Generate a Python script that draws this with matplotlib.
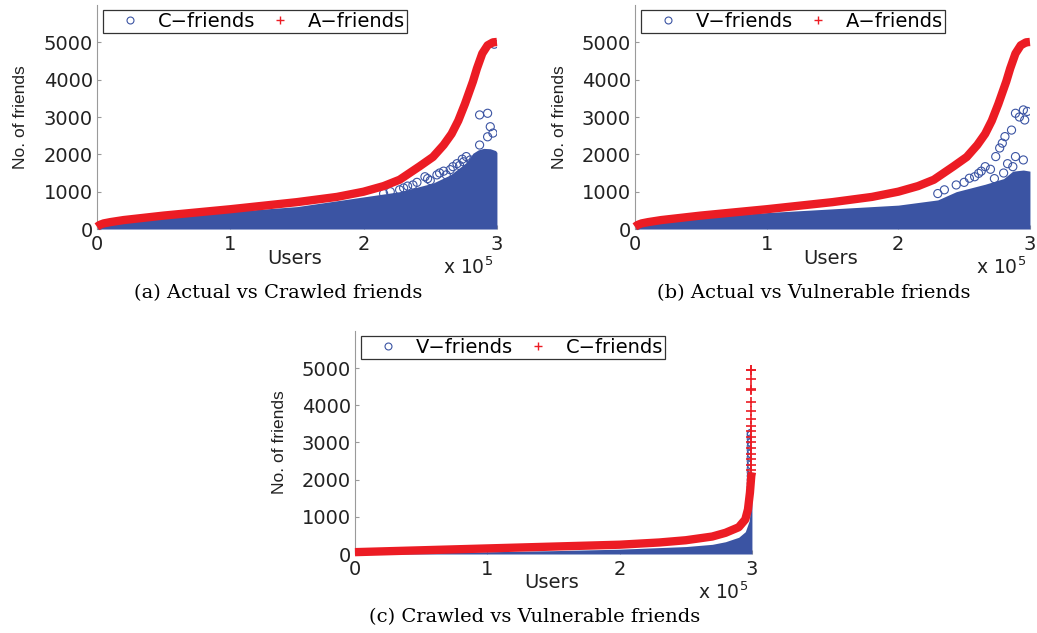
import matplotlib
matplotlib.use('Agg')
import matplotlib.pyplot as plt
from matplotlib.lines import Line2D

BLUE = '#3b54a3'
RED = '#ec1c24'
GRAY = '#9a9a9a'

# users are in units of 10^5 (sorted by number of actual friends)
# A-friends: actual friends (same curve in panels a and b)
a_users = [0, 0.02, 0.05, 0.1, 0.2, 0.5, 1.0, 1.5, 1.8, 2.0, 2.15, 2.27, 2.42,
           2.52, 2.6, 2.66, 2.71, 2.76, 2.82, 2.85, 2.89, 2.93, 2.97, 3.0]
a_friends = [60, 110, 150, 185, 240, 360, 530, 720, 860, 1000, 1150, 1320, 1680,
             1930, 2250, 2550, 2900, 3350, 3950, 4300, 4700, 4920, 5000, 5010]

# C-friends (panel a): upper edge of the crawled-friends cloud + stray points
c_users = [0, 0.02, 0.1, 0.5, 1.0, 1.5, 2.0, 2.27, 2.52, 2.65, 2.77, 2.82, 2.86,
           2.9, 2.95, 2.99, 3.0, 3.0]
c_friends = [20, 80, 150, 320, 470, 600, 860, 1000, 1230, 1450, 1780, 2030, 2120,
             2160, 2150, 2100, 2050, 0]
c_out_users = [2.87, 2.93, 2.95, 2.93, 2.97, 2.87, 2.77, 2.74, 2.67, 2.65, 2.55,
               2.46, 2.37, 2.27, 2.6, 2.8, 2.98, 2.3, 2.33, 2.4, 2.48, 2.5, 2.57,
               2.62, 2.7, 2.72, 2.75, 2.2, 2.15]
c_out_friends = [3056, 3100, 2740, 2470, 2570, 2250, 1940, 1870, 1670, 1590, 1450,
                 1400, 1180, 1050, 1550, 1850, 4950, 1100, 1150, 1250, 1350, 1300,
                 1500, 1450, 1750, 1700, 1800, 1000, 950]

# V-friends (panel b)
v_users = [0, 0.02, 0.1, 0.5, 1.0, 1.5, 2.0, 2.3, 2.44, 2.66, 2.8, 2.87, 2.95,
           3.0, 3.0]
v_friends = [20, 80, 150, 320, 440, 540, 640, 780, 1000, 1200, 1350, 1550, 1580,
             1550, 0]
v_out_users = [2.95, 2.89, 2.96, 2.86, 2.81, 2.79, 2.77, 2.74, 2.89, 2.95, 2.66,
               2.61, 2.54, 2.44, 2.87, 2.92, 2.98, 2.3, 2.35, 2.5, 2.58, 2.63,
               2.7, 2.73, 2.8, 2.83]
v_out_friends = [3190, 3100, 2920, 2650, 2475, 2300, 2170, 1940, 1940, 1850, 1670,
                 1490, 1360, 1180, 1670, 3000, 3150, 950, 1050, 1250, 1400, 1550,
                 1600, 1350, 1500, 1750]

# panel c: crawled (red) vs vulnerable (blue)
cc_users = [0, 0.5, 1.0, 1.5, 2.0, 2.3, 2.5, 2.7, 2.8, 2.9, 2.95, 2.97, 2.985,
            2.995, 3.0]
cc_friends = [50, 100, 150, 200, 250, 310, 370, 470, 570, 720, 930, 1200, 1650,
              2100, 2200]
cc_top_friends = [4950, 4950, 4710, 4440, 4400, 4080, 3860, 3630, 3450, 3300,
                  3150, 3000, 2850, 2700, 2550, 2400, 2250]
vc_users = [0, 0.5, 1.0, 1.5, 2.0, 2.5, 2.7, 2.8, 2.9, 2.95, 2.98, 2.995, 3.0, 3.0]
vc_friends = [20, 40, 60, 90, 130, 200, 260, 330, 450, 600, 900, 1500, 1600, 0]
vc_top_friends = [3250, 3200, 3100, 3000, 2900, 2800, 2700, 2600, 2500, 2400,
                  2300, 2200, 2100, 2000, 1900, 1800, 1700]

fig = plt.figure(figsize=(10.37, 6.33), dpi=100)


def panel(rect, cloud_x, cloud_y, out_x, out_y, line_x, line_y, top_y,
          names, caption):
    ax = fig.add_axes(rect)
    ax.fill_between(cloud_x, 0, cloud_y, color=BLUE, lw=0, zorder=2)
    ax.scatter(out_x, out_y, s=34, facecolors='none', edgecolors=BLUE,
               linewidths=0.8, zorder=3)
    ax.plot(line_x, line_y, color=RED, lw=6, solid_capstyle='butt',
            solid_joinstyle='round', zorder=4, clip_on=False)
    if top_y:
        ax.scatter([2.995] * len(top_y), top_y, marker='+', s=45, color=RED,
                   linewidths=1.2, zorder=5, clip_on=False)

    ax.set_xlim(0, 3)
    ax.set_ylim(0, 6000)
    ax.set_xticks([0, 1, 2, 3])
    ax.set_xticklabels(['0', '1', '2', '3'])
    ax.set_yticks([0, 1000, 2000, 3000, 4000, 5000])
    ax.tick_params(direction='in', length=3, color=GRAY, labelsize=14,
                   labelcolor='#222222')
    ax.tick_params(axis='x', pad=4)
    ax.tick_params(axis='y', pad=3)
    for s in ['top', 'right', 'bottom']:
        ax.spines[s].set_visible(False)
    ax.spines['left'].set_color(GRAY)

    ax.text(-0.19, 0.5, 'No. of friends', rotation=90, ha='center', va='center',
            transform=ax.transAxes, fontsize=12.5, family='Liberation Sans',
            color='#222222')
    ax.text(0.495, -0.13, 'Users', ha='center', va='center',
            transform=ax.transAxes, fontsize=14, color='#222222')
    ax.text(0.99, -0.172, r'x 10$^5$', ha='right', va='center',
            transform=ax.transAxes, fontsize=13.5, color='#222222')
    ax.text(0.4525, -0.285, caption, ha='center', va='center',
            transform=ax.transAxes, fontsize=14, family='DejaVu Serif')

    handles = [Line2D([], [], ls='none', marker='o', mfc='none', mec=BLUE,
                      ms=5, mew=0.8),
               Line2D([], [], ls='none', marker='+', color=RED, ms=6, mew=1)]
    leg = ax.legend(handles, names, loc='upper left', bbox_to_anchor=(0.015, 0.978),
                    ncol=2, fontsize=14, frameon=True, fancybox=False,
                    framealpha=1, edgecolor='#333333', borderaxespad=0,
                    borderpad=0.1, handlelength=2.57, handletextpad=0.15,
                    columnspacing=0.0)
    leg.get_frame().set_linewidth(0.9)
    return ax


panel([0.0935, 0.6382, 0.3857, 0.3539], c_users, c_friends, c_out_users,
      c_out_friends, a_users, a_friends, None,
      ['C\u2212friends', 'A\u2212friends'], '(a) Actual vs Crawled friends')
panel([0.6123, 0.6382, 0.3809, 0.3539], v_users, v_friends, v_out_users,
      v_out_friends, a_users, a_friends, None,
      ['V\u2212friends', 'A\u2212friends'], '(b) Actual vs Vulnerable friends')
panel([0.3423, 0.1248, 0.3828, 0.3523], vc_users, vc_friends,
      [2.995] * len(vc_top_friends), vc_top_friends, cc_users, cc_friends,
      cc_top_friends, ['V\u2212friends', 'C\u2212friends'],
      '(c) Crawled vs Vulnerable friends')

fig.savefig('out.png', dpi=100)
